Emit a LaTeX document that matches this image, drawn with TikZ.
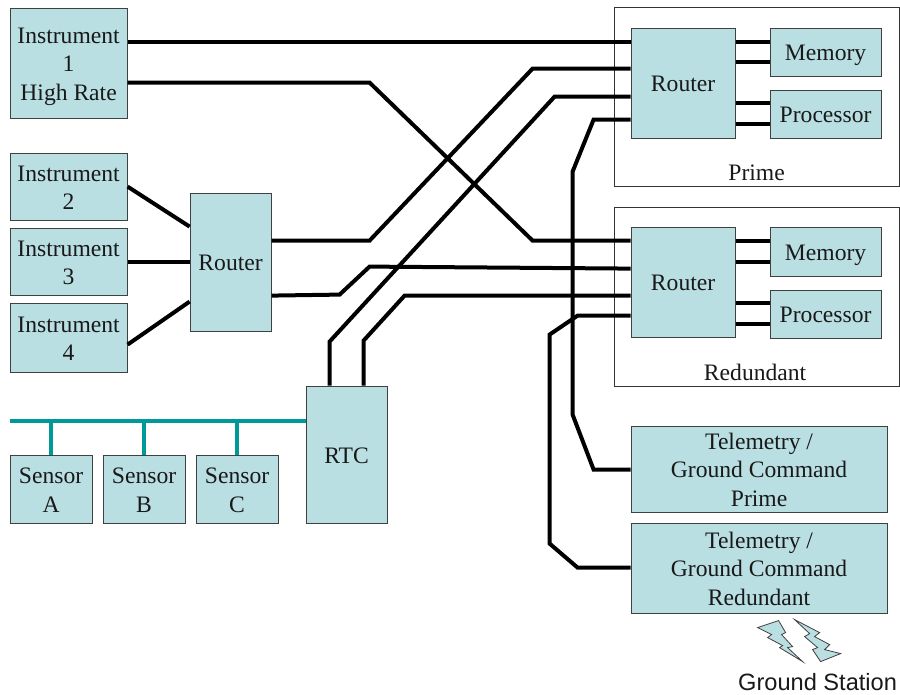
\documentclass[tikz,border=0pt]{standalone}
\usepackage{fontspec}
\setmainfont{Liberation Serif}
\newfontfamily\gsfont{Liberation Sans}
\definecolor{boxfill}{HTML}{B9DFE3}
\definecolor{busteal}{HTML}{009999}
\definecolor{edgegray}{HTML}{404040}
\tikzset{
  x=1pt,y=-1pt,
  txt/.style={font=\fontsize{23.6}{28.5}\selectfont,text=black!90,align=center,inner sep=0pt},
  blockbox/.style={draw=edgegray,line width=1pt,fill=boxfill,txt,anchor=north west,inner sep=0pt},
  framebox/.style={draw=black!80,line width=1pt,fill=white,anchor=north west,inner sep=0pt},
  wire/.style={draw=black,line width=4pt,line join=miter},
  bus/.style={draw=busteal,line width=4pt},
  bolt/.style={draw=edgegray,line width=0.8pt,fill=boxfill,line join=miter}
}
\newcommand{\lowtext}[1]{\raisebox{-3pt}[\height][\depth]{\begin{tabular}{@{}c@{}}#1\end{tabular}}}
\newcommand{\blk}[6]{\node[blockbox,minimum width=#4pt-#2pt,minimum height=#5pt-#3pt] (#1) at (#2,#3) {\lowtext{#6}};}
\begin{document}
\begin{tikzpicture}
\useasboundingbox (0.4,0.4) rectangle (900.4,695.4);
% frames
\node[framebox,minimum width=285pt,minimum height=179pt] (fprime) at (614,7) {};
\node[framebox,minimum width=285pt,minimum height=179pt] (fred) at (614,207) {};
\node[txt] (lprime) at (757,173) {Prime};
\node[txt] (lred) at (755.5,373) {Redundant};
% boxes
\blk{ins1}{10}{8}{127}{118}{Instrument\\1\\High Rate}
\blk{ins2}{10}{153}{127}{220}{Instrument\\2}
\blk{ins3}{10}{228}{127}{295}{Instrument\\3}
\blk{ins4}{10}{303}{127}{372}{Instrument\\4}
\blk{rmid}{190}{193}{271}{331}{Router}
\blk{rtc}{306}{386}{387}{523}{RTC}
\blk{sa}{10}{455}{92}{523}{Sensor\\A}
\blk{sb}{103}{455}{185}{523}{Sensor\\B}
\blk{sc}{196}{455}{278}{523}{Sensor\\C}
\blk{rp}{631}{28}{735}{138}{Router}
\blk{mp}{770}{28}{881}{76}{Memory}
\blk{pp}{770}{90}{881}{138}{Processor}
\blk{rr}{631}{227}{735}{337}{Router}
\blk{mr}{770}{227}{881}{276}{Memory}
\blk{pr}{770}{290}{881}{338}{Processor}
\blk{tp}{631}{426}{887}{512}{Telemetry /\\Ground Command\\Prime}
\blk{tr}{631}{523}{887}{613}{Telemetry /\\Ground Command\\Redundant}
% router to memory and processor
\draw[wire] (rp.east |- 0,42) -- (mp.west |- 0,42);
\draw[wire] (rp.east |- 0,62) -- (mp.west |- 0,62);
\draw[wire] (rp.east |- 0,103) -- (pp.west |- 0,103);
\draw[wire] (rp.east |- 0,124) -- (pp.west |- 0,124);
\draw[wire] (rr.east |- 0,241) -- (mr.west |- 0,241);
\draw[wire] (rr.east |- 0,262) -- (mr.west |- 0,262);
\draw[wire] (rr.east |- 0,303) -- (pr.west |- 0,303);
\draw[wire] (rr.east |- 0,324) -- (pr.west |- 0,324);
% long wires
\draw[wire] (ins1.east |- 0,42) -- (rp.west |- 0,42);
\draw[wire] (ins1.east |- 0,83) -- (370,83) -- (533,241) -- (rr.west |- 0,241);
\draw[wire] (ins2.east |- 0,187) -- (rmid.west |- 0,227);
\draw[wire] (ins3.east |- 0,262) -- (rmid.west |- 0,262);
\draw[wire] (ins4.east |- 0,345) -- (rmid.west |- 0,302);
\draw[wire] (rmid.east |- 0,241) -- (370,241) -- (533,69) -- (rp.west |- 0,69);
\draw[wire] (rmid.east |- 0,296) -- (340,295) -- (370,267) -- (rr.west |- 0,269);
\draw[wire] (rtc.north -| 330,0) -- (330,342) -- (555,97) -- (rp.west |- 0,97);
\draw[wire] (rtc.north -| 364,0) -- (364,341) -- (405,296) -- (rr.west |- 0,296);
\draw[wire] (rp.west |- 0,120) -- (594,120) -- (573,172) -- (573,415) -- (594,470) -- (tp.west |- 0,470);
\draw[wire] (rr.west |- 0,316) -- (578,316) -- (550,335) -- (550,544) -- (578,568) -- (tr.west |- 0,568);
% sensor bus
\coordinate (busl) at (10,421);
\draw[bus] (busl) -- (rtc.west |- busl);
\draw[bus] (sa.north) -- (sa.north |- busl);
\draw[bus] (sb.north) -- (sb.north |- busl);
\draw[bus] (sc.north) -- (sc.north |- busl);
% lightning
\draw[bolt] (758,628) -- (779,621) -- (786,633) -- (782,635) -- (793,647) -- (788,648) -- (803,662) -- (780,648) -- (783,646) -- (768,638) -- (772,635) -- cycle;
\draw[bolt] (795,620) -- (820,633) -- (815,637) -- (830,645) -- (825,650) -- (841,654) -- (821,662) -- (813,650) -- (818,648) -- (805,637) -- (810,634) -- cycle;
\node[font=\gsfont\fontsize{23.6}{26}\selectfont,inner sep=0pt,text=black!90] (gs) at (818,682) {Ground Station};
\end{tikzpicture}
\end{document}
